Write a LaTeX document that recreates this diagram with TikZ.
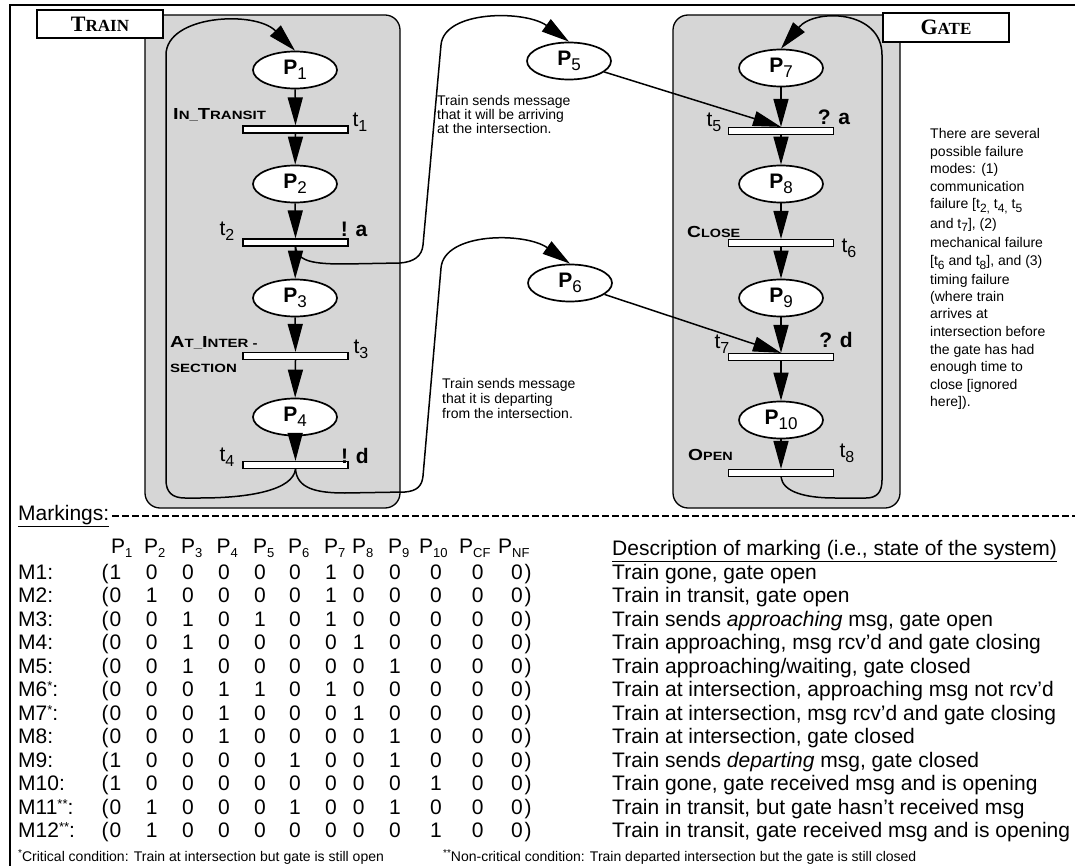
\documentclass[tikz,border=0pt]{standalone}
\usepackage{fontspec}
\usepackage{graphicx}
\setmainfont{Liberation Sans}
\newfontfamily\serifbf{Liberation Serif}
\usetikzlibrary{arrows.meta,shapes.geometric}
\newcommand\capA[1]{{\fontsize{16}{16}\selectfont #1}}
\newcommand\capB[1]{{\fontsize{12}{12}\selectfont #1}}
\newcommand\Plab[1]{{\fontsize{21}{21}\selectfont\bfseries P}\raisebox{-5pt}{\fontsize{17}{17}\selectfont #1}}
\newcommand\Tlab[1]{{\fontsize{21}{21}\selectfont t}\raisebox{-5pt}{\fontsize{16}{16}\selectfont #1}}
\newcommand\lowsub[1]{\raisebox{-3.5pt}{\fontsize{12}{12}\selectfont #1}}
\newcommand\hsub[1]{\raisebox{-4pt}{\fontsize{13}{13}\selectfont #1}}
\newcommand\upstar[1]{\raisebox{6pt}{\fontsize{13}{13}\selectfont #1}}
\begin{document}
\begin{tikzpicture}[x=1pt,y=-1pt,
  place/.style={ellipse,draw,line width=1.7pt,fill=white,minimum width=84pt,minimum height=37pt,inner sep=0pt},
  tbar/.style={rectangle,draw,line width=1.2pt,fill=white,minimum width=105pt,minimum height=7pt,inner sep=0pt},
  arr/.style={line width=1.5pt,-{Triangle[length=28pt,width=15pt]}},
  zone/.style={draw,line width=1.3pt,fill=black!16,rounded corners=15pt},
  tag/.style={draw,line width=1.4pt,fill=white,inner sep=0pt},
  bigt/.style={font=\fontsize{21}{21}\selectfont\bfseries},
  note/.style={font=\fontsize{14}{15}\selectfont,anchor=base west,inner sep=0pt},
  tbl/.style={font=\fontsize{21}{24}\selectfont,inner sep=0pt},
  sclab/.style={anchor=west,inner sep=0pt}]
\useasboundingbox (0,0) rectangle (1075,866);
\fill[white] (0,0) rectangle (1075,866);
% frame
\draw[line width=2pt] (10,866) -- (10,5) -- (1075,5);
% zones
\draw[zone] (145,15) rectangle (400,508);
\draw[zone] (673,15) rectangle (900,508);
% tags
\node[tag,minimum width=126pt,minimum height=28pt] (trainlab) at (100,24)
  {\serifbf\bfseries\fontsize{22}{22}\selectfont T\fontsize{17}{17}\selectfont RAIN};
\node[tag,minimum width=126pt,minimum height=29pt] (gatelab) at (946,27.5)
  {\serifbf\bfseries\fontsize{22}{22}\selectfont G\fontsize{17}{17}\selectfont ATE};
% train column
\node[place] (P1) at (295,70) {\Plab{1}};
\node[tbar] (t1) at (295.5,129.5) {};
\node[place] (P2) at (295,184) {\Plab{2}};
\node[tbar] (t2) at (295.5,242.5) {};
\node[place] (P3) at (295,298) {\Plab{3}};
\node[tbar] (t3) at (295.5,356) {};
\node[place] (P4) at (295,417) {\Plab{4}};
\node[tbar] (t4) at (295.5,465) {};
% gate column
\node[place] (P7) at (781,68) {\Plab{7}};
\node[tbar] (t5) at (781,131) {};
\node[place] (P8) at (781,184) {\Plab{8}};
\node[tbar] (t6) at (781,243) {};
\node[place] (P9) at (781,298) {\Plab{9}};
\node[tbar] (t7) at (781,357) {};
\node[place] (P10) at (781,420) {\Plab{10}};
\node[tbar] (t8) at (781,473) {};
% channel places
\node[place] (P5) at (569,61) {\Plab{5}};
\node[place] (P6) at (570,283) {\Plab{6}};
% vertical arcs
\draw[arr] (P1) -- (t1.north);
\draw[arr] (t1.south) -- (P2);
\draw[arr] (P2) -- (t2.north);
\draw[arr] (t2.south) -- (P3);
\draw[arr] (P3) -- (t3.north);
\draw[arr] (t3.south) -- (P4);
\draw[arr] (P4) -- (t4.north);
\draw[arr] (P7) -- (t5.north);
\draw[arr] (t5.south) -- (P8);
\draw[arr] (P8) -- (t6.north);
\draw[arr] (t6.south) -- (P9);
\draw[arr] (P9) -- (t7.north);
\draw[arr] (t7.south) -- (P10);
\draw[arr] (P10) -- (t8.north);
% loops
\draw[arr] (t4.south) .. controls (293,490) and (250,498) .. (200,498) -- (185,498)
  .. controls (172,498) and (166,492) .. (166,480) -- (166,55)
  .. controls (166,15) and (255,10) .. (P1.north);
\draw[arr] (t8.south) .. controls (783,492) and (805,498) .. (835,498) -- (866,498)
  .. controls (877,498) and (882,492) .. (882,480) -- (882,55)
  .. controls (882,10) and (815,8) .. (P7.north);
% messages
\draw[arr] (t2.south) .. controls (297,262) and (315,264) .. (345,264) -- (400,263)
  .. controls (414,262) and (422,256) .. (423,245) -- (441,45)
  .. controls (444,10) and (525,10) .. (P5.north);
\draw[arr] (t4.south) .. controls (297,488) and (315,493) .. (345,493) -- (405,492)
  .. controls (417,491) and (422,486) .. (423,476) -- (441,268)
  .. controls (444,232) and (525,232) .. (P6.north);
\draw[arr] (P5) -- (t5.north);
\draw[arr] (P6) -- (t7.north);
% transition labels
\node[sclab] (lIn) at (173,115) {\scalebox{1.25}[1]{\bfseries\capA{I}\capB{N\_}\capA{T}\capB{RANSIT}}};
\node[sclab] (lAt) at (170,343) {\scalebox{1.25}[1]{\bfseries\capA{A}\capB{T\_}\capA{I}\capB{NTER -}}};
\node[sclab] (lSec) at (170,368) {\scalebox{1.25}[1]{\bfseries\capB{SECTION}}};
\node[sclab] (lClose) at (687,232) {\scalebox{1.2}[1]{\bfseries\capA{C}\capB{LOSE}}};
\node[sclab] (lOpen) at (688,455) {\scalebox{1.2}[1]{\bfseries\capA{O}\capB{PEN}}};
\node[inner sep=0pt] (lt1) at (360,122) {\Tlab{1}};
\node[inner sep=0pt] (lt2) at (227,231) {\Tlab{2}};
\node[bigt,inner sep=0pt] (lsa) at (354,229) {! a};
\node[inner sep=0pt] (lt3) at (361,349) {\Tlab{3}};
\node[inner sep=0pt] (lt4) at (227,457) {\Tlab{4}};
\node[bigt,inner sep=0pt] (lsd) at (355,456) {! d};
\node[inner sep=0pt] (lt5) at (714,122) {\Tlab{5}};
\node[bigt,inner sep=0pt] (lra) at (834,117) {? a};
\node[inner sep=0pt] (lt6) at (849,248) {\Tlab{6}};
\node[inner sep=0pt] (lt7) at (722,344) {\Tlab{7}};
\node[bigt,inner sep=0pt] (lrd) at (836,340) {? d};
\node[inner sep=0pt] (lt8) at (847,453) {\Tlab{8}};
% message notes
\node[note] (m1a) at (437,106) {Train sends message};
\node[note] (m1b) at (437,120) {that it will be arriving};
\node[note] (m1c) at (437,134) {at the intersection.};
\node[note] (m2a) at (442,388) {Train sends message};
\node[note] (m2b) at (442,403) {that it is departing};
\node[note] (m2c) at (442,418) {from the intersection.};
% failure modes
\foreach \ln/\yy in {{There are several}/134, {possible failure}/151.5, {modes: (1)}/169,
  {communication}/186.5, {failure [t\lowsub{2,} t\lowsub{4,} t\lowsub{5}}/204,
  {and t\lowsub{7}], (2)}/223.5, {mechanical failure}/243, {[t\lowsub{6} and t\lowsub{8}], and (3)}/261,
  {timing failure}/279, {(where train}/296.5, {arrives at}/314, {intersection before}/331.5,
  {the gate has had}/349, {enough time to}/366.5, {close [ignored}/384, {here]).}/401.5}
  {\node[note] at (930,\yy+5) {\ln};}
% markings
\node[tbl,anchor=base west] (mk) at (18,520.5) {\underline{Markings:}};
\draw[line width=2.6pt,dash pattern=on 7pt off 3pt] (112,516) -- (1075,516);
% header
\foreach \s/\xx in {1/111,2/144,3/181,4/216.5,5/253,6/288,7/324,8/352,9/388,10/419,CF/459,NF/498}
  {\node[tbl,anchor=base west] at (\xx,553) {P\hsub{\s}};}
\node[tbl,anchor=base west] (dh) at (612,555.5) {\underline{Description of marking (i.e., state of the system)}};
\def\cols{{115.5,151.7,188,224,260,295,331,358.6,395,436,477.6,517}}
\foreach \lab/\vals/\desc [count=\i] in {
  {M1:}/{1,0,0,0,0,0,1,0,0,0,0,0}/{Train gone, gate open},
  {M2:}/{0,1,0,0,0,0,1,0,0,0,0,0}/{Train in transit, gate open},
  {M3:}/{0,0,1,0,1,0,1,0,0,0,0,0}/{Train sends \textit{approaching} msg, gate open},
  {M4:}/{0,0,1,0,0,0,0,1,0,0,0,0}/{Train approaching, msg rcv'd and gate closing},
  {M5:}/{0,0,1,0,0,0,0,0,1,0,0,0}/{Train approaching\slash waiting, gate closed},
  {M6\upstar{*}:}/{0,0,0,1,1,0,1,0,0,0,0,0}/{Train at intersection, approaching msg not rcv'd},
  {M7\upstar{*}:}/{0,0,0,1,0,0,0,1,0,0,0,0}/{Train at intersection, msg rcv'd and gate closing},
  {M8:}/{0,0,0,1,0,0,0,0,1,0,0,0}/{Train at intersection, gate closed},
  {M9:}/{1,0,0,0,0,1,0,0,1,0,0,0}/{Train sends \textit{departing} msg, gate closed},
  {M10:}/{1,0,0,0,0,0,0,0,0,1,0,0}/{Train gone, gate received msg and is opening},
  {M11\upstar{**}:}/{0,1,0,0,0,1,0,0,1,0,0,0}/{Train in transit, but gate hasn't received msg},
  {M12\upstar{**}:}/{0,1,0,0,0,0,0,0,0,1,0,0}/{Train in transit, gate received msg and is opening}}
{
  \pgfmathsetmacro\yb{579.5+23.45*(\i-1)}
  \node[tbl,anchor=base west] at (18,\yb) {\lab};
  \node[tbl,anchor=base] at (105,\yb) {(};
  \node[tbl,anchor=base] at (528,\yb) {)};
  \foreach \v [count=\j] in \vals {
    \pgfmathsetmacro\cx{\cols[\j-1]}
    \node[tbl,anchor=base] at (\cx,\yb) {\v};
  }
  \node[tbl,anchor=base west] at (612,\yb) {\desc};
}
% footnotes
\node[note] (fn1) at (18,861) {\raisebox{5pt}{\fontsize{10}{10}\selectfont *}Critical condition: Train at intersection but gate is still open};
\node[note] (fn2) at (443,861) {\raisebox{5pt}{\fontsize{10}{10}\selectfont **}Non-critical condition: Train departed intersection but the gate is still closed};
\end{tikzpicture}
\end{document}
